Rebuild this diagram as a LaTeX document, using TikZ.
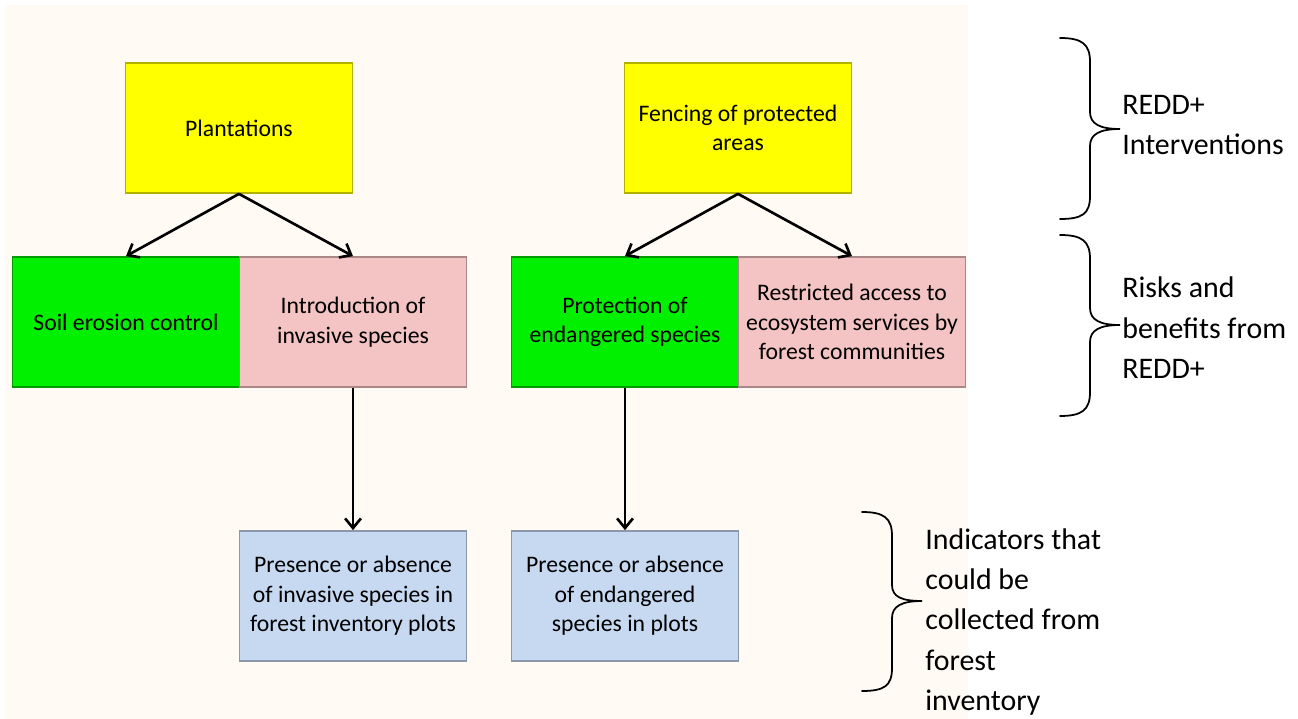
\documentclass[tikz,border=0pt]{standalone}
\usepackage{fontspec}
\setmainfont{Carlito}
\usepackage{tikz}
\usetikzlibrary{arrows.meta}

\definecolor{cream}{HTML}{FFFAF4}
\definecolor{boxyellow}{HTML}{FFFF00}
\definecolor{boxgreen}{HTML}{00F000}
\definecolor{boxpink}{HTML}{F4C3C3}
\definecolor{boxblue}{HTML}{C6D9F1}

\begin{document}
\begin{tikzpicture}[x=0.02cm, y=-0.02cm,
	box/.style={shape=rectangle, minimum width=4.54cm, minimum height=2.6cm, inner sep=2pt,
		align=center, font=\fontsize{13.5}{16.8}\selectfont, line width=1pt},
	yellowbox/.style={box, fill=boxyellow, draw=boxyellow!70!black},
	greenbox/.style={box, fill=boxgreen, draw=boxgreen!65!black},
	pinkbox/.style={box, fill=boxpink, draw=boxpink!70!black},
	bluebox/.style={box, fill=boxblue, draw=boxblue!70!black},
	label/.style={anchor=west, align=left, inner sep=0pt, font=\fontsize{17}{23}\selectfont},
	curly/.style={line width=1pt, line cap=round},
	link/.style={-{Straight Barb[length=5.5pt, width=9pt]}, line width=1.5pt}]

	\useasboundingbox (0, 0) rectangle (1298, 719);
	\fill[cream] (5, 5) rectangle (968, 719);

	\node[yellowbox] (plant) at (239, 128) {Plantations};
	\node[yellowbox] (fence) at (738, 128) {Fencing of protected\\areas};
	\node[greenbox] (soil) at (126, 322) {Soil erosion control};
	\node[pinkbox] (intro) at (353, 322) {Introduction of\\invasive species};
	\node[greenbox] (prot) at (625, 322) {Protection of\\endangered species};
	\node[pinkbox] (restr) at (852, 322) {Restricted access to\\ecosystem services by\\forest communities};
	\node[bluebox] (inv) at (353, 596) {Presence or absence\\of invasive species in\\forest inventory plots};
	\node[bluebox] (end) at (625, 596) {Presence or absence\\of endangered\\species in plots};

	\path[link] (plant.south) edge (soil.north);
	\path[link] (plant.south) edge (intro.north);
	\path[link] (fence.south) edge (prot.north);
	\path[link] (fence.south) edge (restr.north);
	\path[link] (intro.south) edge (inv.north);
	\path[link] (prot.south) edge (end.north);

	% braces
	\draw[curly] (1060, 38) .. controls (1082, 38) and (1090, 44) .. (1090, 62) -- (1090, 112)
		.. controls (1090, 124) and (1100, 129) .. (1120, 129)
		.. controls (1100, 129) and (1090, 134) .. (1090, 146) -- (1090, 196)
		.. controls (1090, 214) and (1082, 219) .. (1060, 219);
	\draw[curly] (1060, 235) .. controls (1082, 235) and (1090, 241) .. (1090, 259) -- (1090, 308)
		.. controls (1090, 320) and (1100, 325) .. (1120, 325)
		.. controls (1100, 325) and (1090, 330) .. (1090, 342) -- (1090, 392)
		.. controls (1090, 410) and (1082, 416) .. (1060, 416);
	\draw[curly] (862, 512) .. controls (884, 512) and (892, 518) .. (892, 536) -- (892, 585)
		.. controls (892, 597) and (902, 601) .. (922, 601)
		.. controls (902, 601) and (892, 606) .. (892, 618) -- (892, 668)
		.. controls (892, 686) and (884, 691) .. (862, 691);

	\node[label] (interv) at (1122, 125) {REDD+\\Interventions};
	\node[label] (risks) at (1122, 328) {Risks and\\benefits from\\REDD+};
	\node[label] (indic) at (925, 622) {Indicators that\\could be\\collected from\\forest\\inventory};

\end{tikzpicture}
\end{document}
